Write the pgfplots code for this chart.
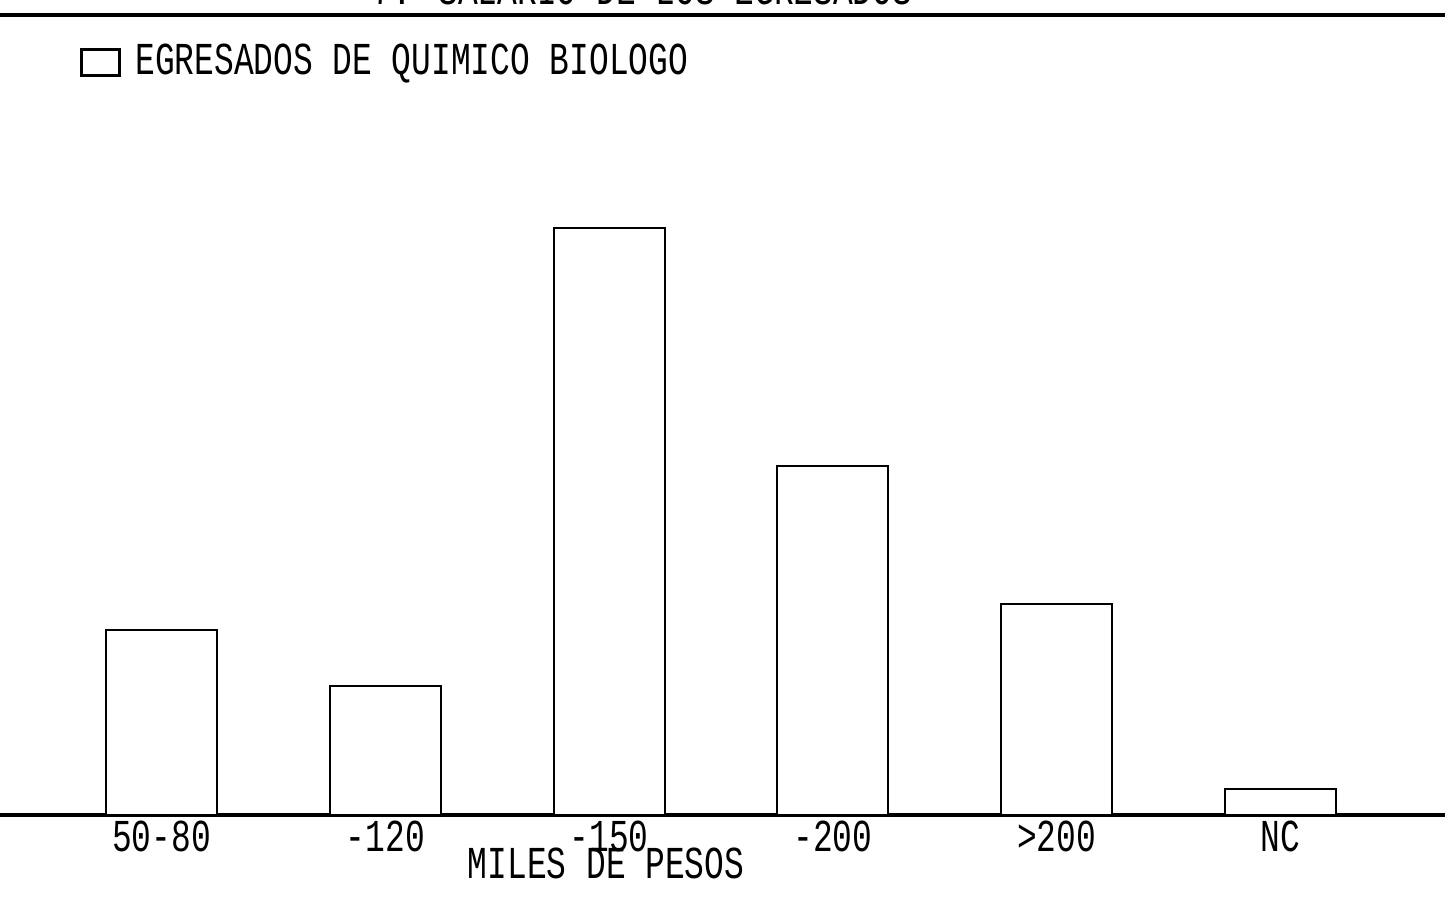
\documentclass[border=0pt]{standalone}
\usepackage{pgfplots}
\pgfplotsset{compat=1.18}
\usepackage{fontspec}
\setmainfont{Liberation Mono}
\newcommand\tl[1]{\scalebox{0.72}[1]{\fontsize{13}{15}\selectfont #1}}
\begin{document}
\begin{tikzpicture}
\begin{axis}[
  scale only axis,
  width=144.5mm, height=81.5mm,
  xmin=-0.7216, xmax=5.735,
  ymin=0, ymax=815,
  axis x line*=bottom, axis y line=none,
  x axis line style={line width=0.9pt, -},
  ybar, bar width=11.1mm,
  xtick={0,1,2,3,4,5},
  xticklabels={\tl{50-80},\tl{-120},\tl{-150},\tl{-200},\tl{>200},\tl{NC}},
  major tick length=0pt,
  xticklabel style={inner sep=0pt, anchor=north, yshift=-0.5mm},
  xlabel={\tl{MILES DE PESOS}},
  xlabel style={at={(axis description cs:0.4194,0)}, anchor=center, yshift=-4.8mm},
  legend style={draw=none, fill=none, at={(axis description cs:0.055,0.955)}, anchor=north west, inner sep=0pt, legend cell align=left},
  legend image code/.code={\draw[#1, line width=0.9pt] (0mm,-1.3mm) rectangle (3.8mm,1.3mm);},
  clip=false,
]
\addplot[draw=black, fill=white, line width=0.6pt] coordinates {(0,185) (1,129) (2,587) (3,349) (4,211) (5,26)};
\addlegendentry{\hspace{0.7mm}\tl{EGRESADOS DE QUIMICO BIOLOGO}}
\end{axis}
\node[anchor=base west, inner sep=0pt] at (37.2mm,81.5mm-0.45mm) {\tl{7. SALARIO DE LOS EGRESADOS}};
\draw[line width=1.0pt] (0,81.5mm-1.5mm) -- (144.5mm,81.5mm-1.5mm);
\pgfresetboundingbox
\useasboundingbox (0,-9.8mm) rectangle (144.5mm,81.5mm);
\end{tikzpicture}
\end{document}
